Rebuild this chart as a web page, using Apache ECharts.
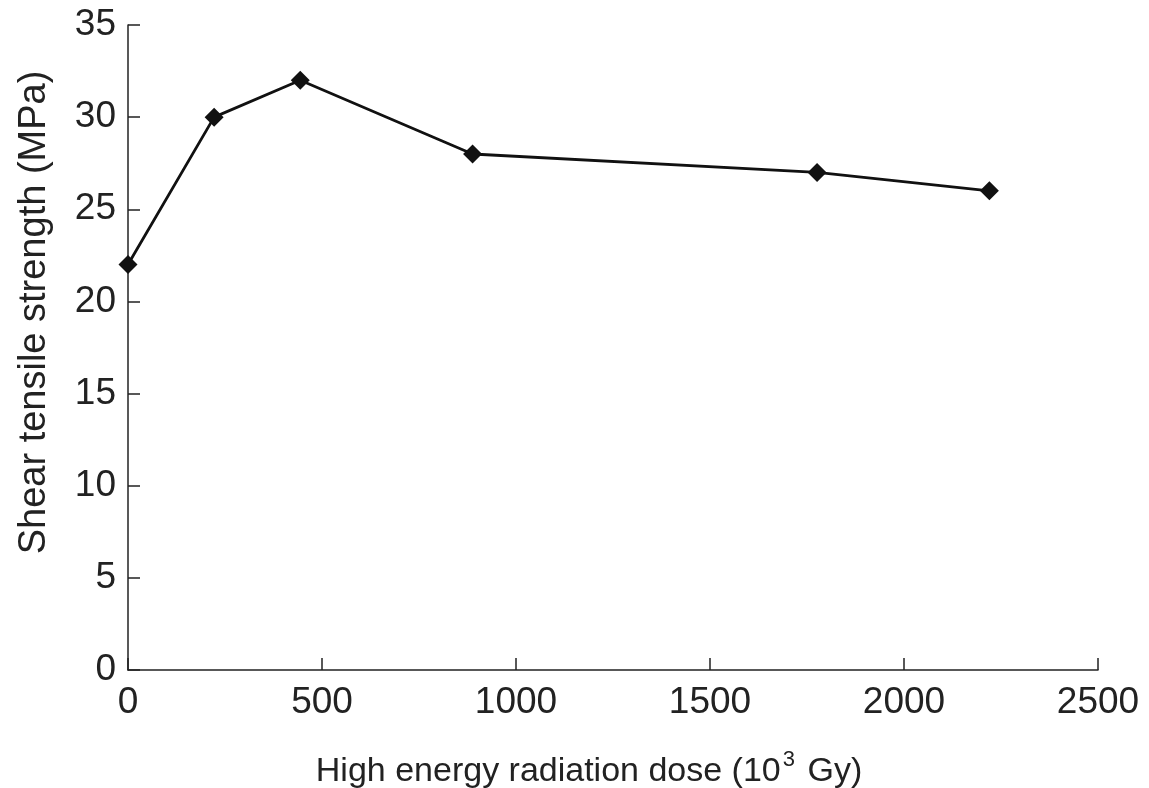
<!DOCTYPE html>
<html>
<head>
<meta charset="utf-8">
<script src="https://cdn.jsdelivr.net/npm/echarts@6/dist/echarts.min.js"></script>
<style>
html,body{margin:0;padding:0;background:#fff;}
#chart{width:1149px;height:788px;}
</style>
</head>
<body>
<div id="chart"></div>
<script>
const doses = [0, 222, 444, 888, 1776, 2220];
const strength = [22, 30, 32, 28, 27, 26];
const xTicks = [0, 500, 1000, 1500, 2000, 2500];
const yTicks = [0, 5, 10, 15, 20, 25, 30, 35];

const chart = echarts.init(document.getElementById('chart'));
const font = 'Liberation Sans, Arial, Helvetica, sans-serif';
chart.setOption({
  backgroundColor: '#fff',
  animation: false,
  grid: {left: 128, right: 51, top: 25, bottom: 118, containLabel: false, outerBoundsMode: 'none'},
  xAxis: {
    type: 'value', min: xTicks[0], max: xTicks[xTicks.length - 1], interval: 500,
    axisLine: {lineStyle: {color: '#222', width: 1.5}},
    axisTick: {inside: true, length: 12, lineStyle: {color: '#222', width: 1.5}},
    splitLine: {show: false},
    axisLabel: {color: '#222', fontSize: 37, fontFamily: font, margin: 14,
      formatter: v => String(v)},
    name: '{a|High energy radiation dose (10}{s|3}{a| Gy)}',
    nameLocation: 'middle', nameGap: 79,
    nameTextStyle: {
      padding: [0, 48, 0, 0],
      rich: {
        a: {fontSize: 34, fontFamily: font, color: '#222', lineHeight: 40, verticalAlign: 'bottom'},
        s: {fontSize: 22, fontFamily: font, color: '#222', lineHeight: 40, verticalAlign: 'top', padding: [0, 3, 0, 2]}
      }
    }
  },
  yAxis: {
    type: 'value', min: yTicks[0], max: yTicks[yTicks.length - 1], interval: 5,
    axisLine: {show: true, lineStyle: {color: '#222', width: 1.5}},
    axisTick: {show: true, inside: true, length: 12, lineStyle: {color: '#222', width: 1.5}},
    splitLine: {show: false},
    axisLabel: {color: '#222', fontSize: 37, fontFamily: font, margin: 12},
    name: 'Shear tensile strength (MPa)',
    nameLocation: 'middle', nameGap: 74,
    nameTextStyle: {fontSize: 38, fontFamily: font, color: '#222', padding: [0, 0, 0, 70]}
  },
  series: [{
    type: 'line',
    data: doses.map((d, i) => [d, strength[i]]),
    symbol: 'diamond', symbolSize: 19,
    lineStyle: {color: '#111', width: 2.8},
    itemStyle: {color: '#111'}
  }]
});
</script>
</body>
</html>
